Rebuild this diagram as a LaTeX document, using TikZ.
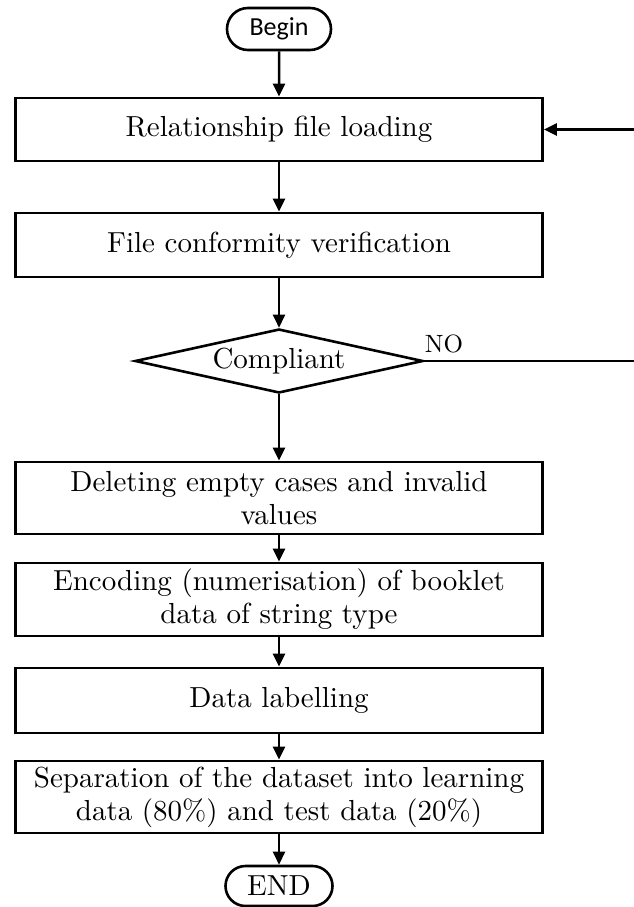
\documentclass[tikz,border=0pt]{standalone}
\usepackage{fontspec}
\setmainfont{lmroman10-regular.otf}
\newfontfamily\beginfont{Carlito}
\usetikzlibrary{shapes.geometric,shapes.misc,arrows.meta}
\begin{document}
\begin{tikzpicture}[x=1pt,y=-1pt,
  txt/.style={font=\fontsize{29}{33}\selectfont},
  box/.style={draw, line width=2.7pt, minimum width=527pt, inner sep=0pt, align=center, txt},
  pill/.style={rounded rectangle, draw, line width=2.6pt, inner sep=0pt},
  cond/.style={diamond, draw, line width=2.6pt, aspect=4.5, minimum width=288pt, minimum height=64pt, inner sep=0pt, txt},
  arr/.style={line width=2.5pt, -{Triangle[length=13pt,width=12pt]}},
  link/.style={line width=2.5pt}]
\fill[white] (0,0) rectangle (634,907);
\useasboundingbox (0,0) rectangle (634,907);

\node[pill, minimum width=104pt, minimum height=42pt, font=\beginfont\fontsize{26}{30}\selectfont] (begin) at (279,29) {Begin};
\node[box, minimum height=63pt] (rel) at (279,129.5) {Relationship file loading};
\node[box, minimum height=64pt] (file) at (279,245) {File conformity verification};
\node[cond] (comp) at (279,361) {Compliant};
\node[box, minimum height=72pt] (del) at (279,498) {Deleting empty cases and invalid\\values};
\node[box, minimum height=73pt] (enc) at (279,599.5) {Encoding (numerisation) of booklet\\data of string type};
\node[box, minimum height=65pt] (lab) at (279,700.5) {Data labelling};
\node[box, minimum height=72pt] (sep) at (279,797) {Separation of the dataset into learning\\data (80\%) and test data (20\%)};
\node[pill, minimum width=107pt, minimum height=40pt, txt] (end) at (279,886) {END};

\node[font=\fontsize{25}{30}\selectfont] (no) at (444,344) {NO};

\coordinate (e1) at (634,361);
\coordinate (e2) at (634,129.5);

\draw[arr] (begin) -- (rel);
\draw[arr] (rel) -- (file);
\draw[arr] (file) -- (comp);
\draw[arr] (comp) -- (del);
\draw[arr] (del) -- (enc);
\draw[arr] (enc) -- (lab);
\draw[arr] (lab) -- (sep);
\draw[arr] (sep) -- (end);
\draw[link] (comp.east) -- (e1);
\draw[arr] (e2) -- (rel.east);
\end{tikzpicture}
\end{document}
